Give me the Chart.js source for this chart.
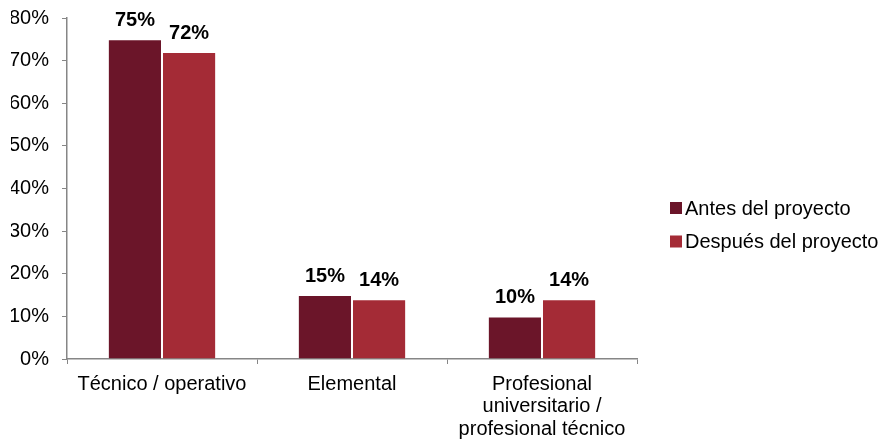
<!DOCTYPE html>
<html>
<head>
<meta charset="utf-8">
<script src="https://cdn.jsdelivr.net/npm/chart.js@4.4.0/dist/chart.umd.min.js"></script>
<style>
  html, body { margin: 0; padding: 0; background: #fff; }
</style>
</head>
<body>
<canvas id="chart" width="880" height="441"></canvas>
<script>
// --- Data ---
const categories = [
    ['Técnico / operativo'],
    ['Elemental'],
    ['Profesional', 'universitario /', 'profesional técnico']
];
const seriesNames = ['Antes del proyecto', 'Después del proyecto'];
const antes = [75, 15, 10];
const despues = [72, 14, 14];
const yTicks = [0, 10, 20, 30, 40, 50, 60, 70, 80];

const FONT = '"Liberation Sans", Arial, sans-serif';
const axisGrey = '#868686';

// --- Value labels above each bar ---
const valueLabels = {
    id: 'valueLabels',
    afterDatasetsDraw(chart) {
        const ctx = chart.ctx;
        ctx.save();
        ctx.font = 'bold 20px ' + FONT;
        ctx.fillStyle = '#000';
        ctx.textAlign = 'center';
        ctx.textBaseline = 'alphabetic';
        chart.data.datasets.forEach((ds, i) => {
            chart.getDatasetMeta(i).data.forEach((bar, j) => {
                ctx.fillText(Math.round(ds.data[j]) + '%', bar.x, bar.y - 13);
            });
        });
        ctx.restore();
    }
};

// --- Legend on the right side ---
const sideLegend = {
    id: 'sideLegend',
    afterDraw(chart) {
        const ctx = chart.ctx;
        ctx.save();
        ctx.font = '20px ' + FONT;
        ctx.textBaseline = 'middle';
        chart.data.datasets.forEach((ds, i) => {
            const y = 208 + i * 33.5;
            ctx.fillStyle = ds.backgroundColor;
            ctx.fillRect(670, y - 6, 12, 12);
            ctx.fillStyle = '#000';
            ctx.fillText(ds.label, 685, y + 1);
        });
        ctx.restore();
    }
};

new Chart(document.getElementById('chart'), {
    type: 'bar',
    data: {
        labels: categories,
        datasets: [
            { label: seriesNames[0], data: antes, backgroundColor: '#6B1529' },
            { label: seriesNames[1], data: despues, backgroundColor: '#A42B36' }
        ]
    },
    options: {
        responsive: false,
        animation: false,
        layout: { padding: { left: 11, right: 243, top: 18, bottom: 0 } },
        datasets: {
            bar: {
                categoryPercentage: 0.57,
                barPercentage: 1,
                borderWidth: 1,
                borderColor: 'rgba(255,255,255,0.22)'
            }
        },
        scales: {
            x: {
                afterFit(scale) { scale.height = 82; },
                grid: { drawOnChartArea: false, drawTicks: true, tickLength: 5, color: axisGrey, offset: true },
                border: { display: true, color: axisGrey, width: 1.5 },
                ticks: {
                    color: '#000',
                    padding: 9,
                    maxRotation: 0,
                    autoSkip: false,
                    font: { family: FONT, size: 20, lineHeight: 1.125 }
                }
            },
            y: {
                min: 0,
                max: 80,
                afterFit(scale) {
                    scale.width = 56;
                    scale.paddingTop = 0;
                    scale.paddingBottom = 0;
                },
                afterBuildTicks(scale) { scale.ticks = yTicks.map(v => ({ value: v })); },
                grid: { drawOnChartArea: false, drawTicks: true, tickLength: 5, color: axisGrey },
                border: { display: true, color: axisGrey, width: 1.5 },
                ticks: {
                    color: '#000',
                    padding: 13,
                    font: { family: FONT, size: 20 },
                    callback: v => v + '%'
                }
            }
        },
        plugins: {
            legend: { display: false },
            tooltip: { enabled: false }
        }
    },
    plugins: [valueLabels, sideLegend]
});
</script>
</body>
</html>
